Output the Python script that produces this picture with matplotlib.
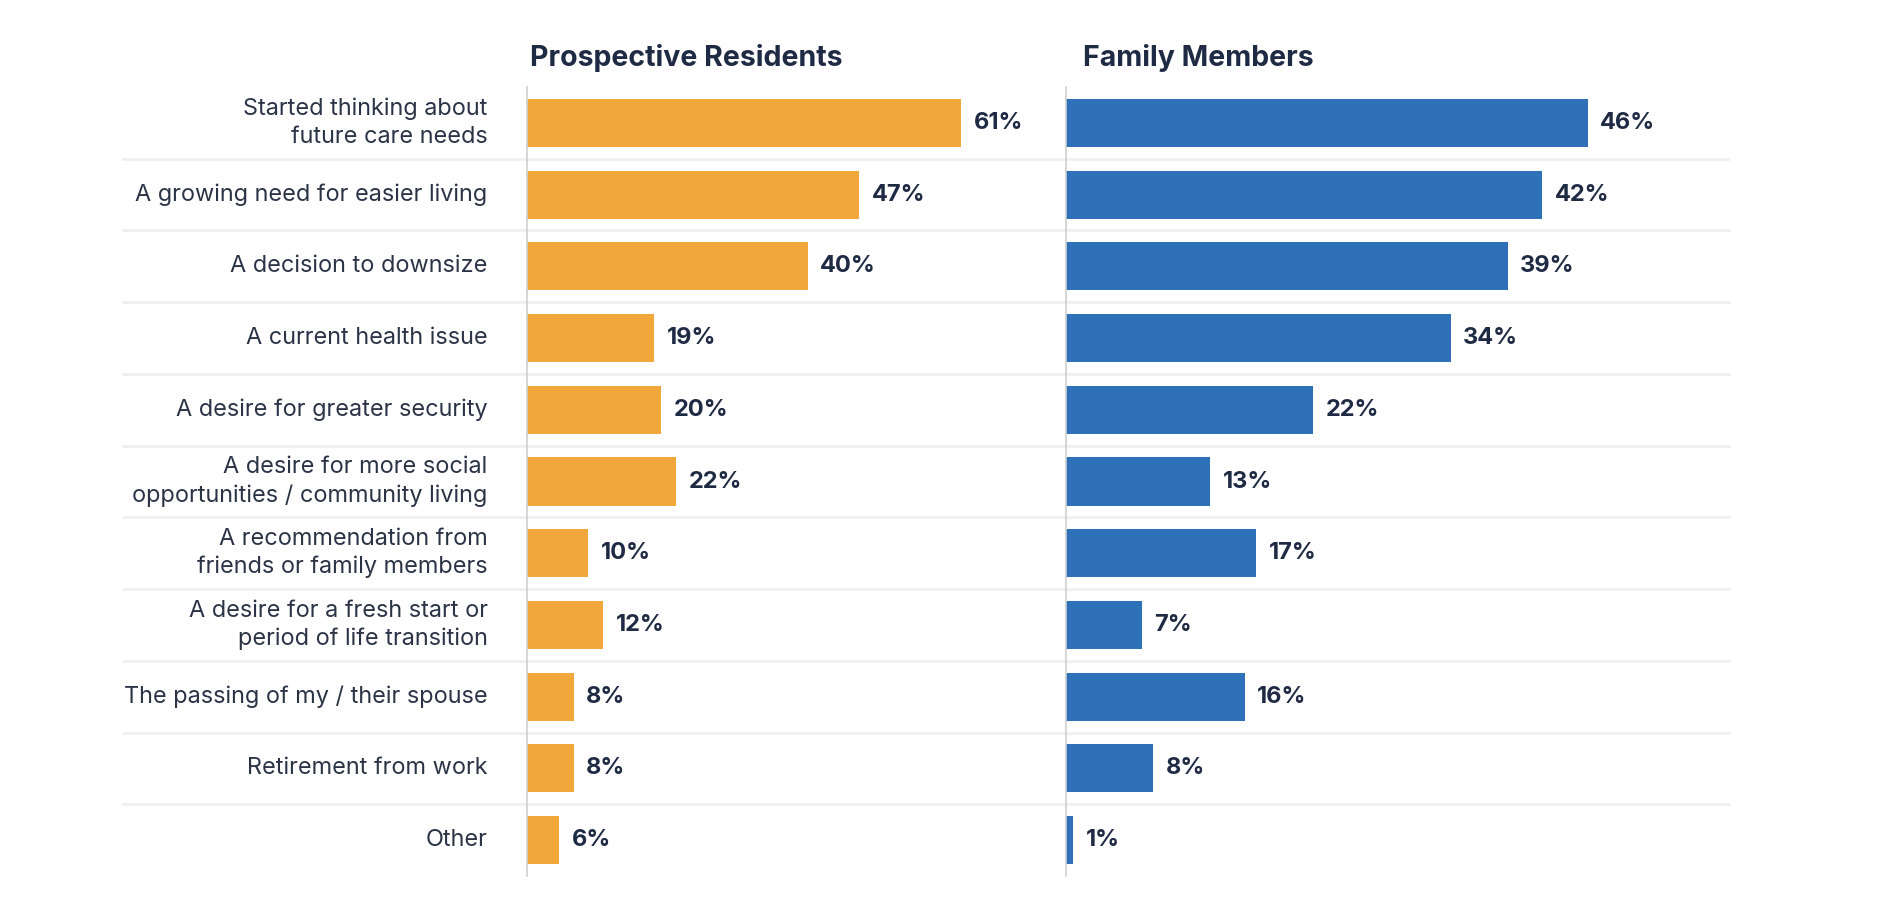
import matplotlib.pyplot as plt
from matplotlib.transforms import blended_transform_factory

categories = [
    "Started thinking about\nfuture care needs",
    "A growing need for easier living",
    "A decision to downsize",
    "A current health issue",
    "A desire for greater security",
    "A desire for more social\nopportunities / community living",
    "A recommendation from\nfriends or family members",
    "A desire for a fresh start or\nperiod of life transition",
    "The passing of my / their spouse",
    "Retirement from work",
    "Other",
]
prospective = [61, 47, 40, 19, 20, 22, 10, 12, 8, 8, 6]
family = [46, 42, 39, 34, 22, 13, 17, 7, 16, 8, 1]

ORANGE = '#F2A73B'
BLUE = '#2E71B8'
NAVY = '#1F2A44'
LABEL = '#2B3446'
GRID = '#EEEEEE'
AXIS = '#CFCFCF'

plt.rcParams['font.family'] = ['Inter', 'DejaVu Sans']

W, H = 1884, 897
fig = plt.figure(figsize=(W / 100, H / 100), dpi=100)

top, bottom = 87, 876
x0, xm, x1 = 526.5, 1066, 1728.5
ax1 = fig.add_axes([x0 / W, 1 - bottom / H, (xm - x0) / W, (bottom - top) / H])
ax2 = fig.add_axes([xm / W, 1 - bottom / H, (x1 - xm) / W, (bottom - top) / H])

y = list(range(len(categories)))

panels = [
    (ax1, prospective, ORANGE, 'Prospective Residents', (1.56, 75.3), 530),
    (ax2, family, BLUE, 'Family Members', (0.37, 58.3), 1083),
]

for ax, vals, color, title, xlim, tx in panels:
    ax.barh(y, vals, height=0.67, color=color, zorder=2)
    ax.set_xlim(*xlim)
    ax.set_ylim(len(categories) - 0.5, -0.5)
    for yi, v in zip(y, vals):
        ax.annotate(f"{v}%", xy=(v, yi), xytext=(9, 0), textcoords='offset points',
                    ha='left', va='center', fontsize=17, fontweight='bold', color=NAVY)
    ax.set_xticks([])
    ax.set_yticks([])
    for s in ['top', 'right', 'bottom']:
        ax.spines[s].set_visible(False)
    ax.spines['left'].set_color(AXIS)
    ax.spines['left'].set_linewidth(1.2)
    ax.spines['left'].set_zorder(3)
    fig.text(tx / W, 1 - 58 / H, title, ha='left', va='center',
             fontsize=20.5, fontweight='bold', color=NAVY)
    ax.patch.set_alpha(0)

# category labels
for yi, cat in zip(y, categories):
    ax1.annotate(cat, xy=(0, yi), xycoords=blended_transform_factory(ax1.transAxes, ax1.transData),
                 xytext=(-28, 0), textcoords='offset points', ha='right', va='center',
                 fontsize=16.9, color=LABEL, linespacing=1.32)

# row separators spanning both panels
trans = blended_transform_factory(fig.transFigure, ax1.transData)
for yi in y[:-1]:
    ax1.plot([123 / W, x1 / W], [yi + 0.5, yi + 0.5], transform=trans, color=GRID,
             lw=1.8, clip_on=False, zorder=1)

fig.savefig('out.png', dpi=100, facecolor='white')
